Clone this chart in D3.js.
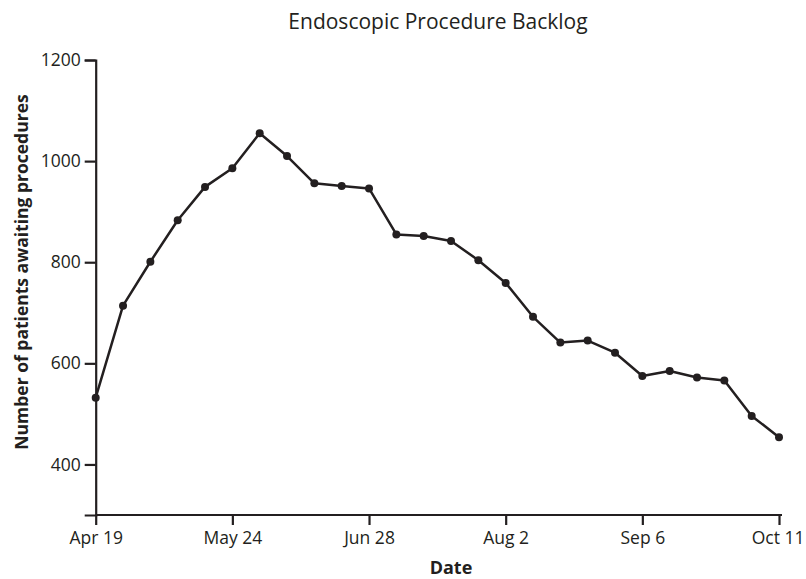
<!DOCTYPE html>
<html>
<head>
<meta charset="utf-8">
<script src="https://cdn.jsdelivr.net/npm/d3@7"></script>
<style>
  body { margin: 0; background: #fff; }
  svg text { font-family: "Open Sans", sans-serif; fill: #231f20; }
</style>
</head>
<body>
<div id="chart"></div>
<script>
// weekly counts, starting Apr 19
const startDate = "2020-04-19";
const backlog = [532, 714, 801, 883, 949, 986, 1055, 1010, 956, 951, 946,
  855, 852, 842, 804, 759, 692, 641, 645, 621, 575, 585, 572, 566, 496, 454];
const tickDates = ["2020-04-19", "2020-05-24", "2020-06-28", "2020-08-02", "2020-09-06", "2020-10-11"];
const yTicks = [400, 600, 800, 1000, 1200];

const width = 806;
const height = 579;
const parse = d3.timeParse("%Y-%m-%d");
const start = parse(startDate);

const data = backlog.map((v, i) => ({ date: d3.timeDay.offset(start, i * 7), value: v }));

const svg = d3.select("#chart")
  .append("svg")
  .attr("width", width)
  .attr("height", height);

const x = d3.scaleTime()
  .domain([parse(tickDates[0]), parse(tickDates[tickDates.length - 1])])
  .range([95.7, 779]);

const y = d3.scaleLinear()
  .domain([300, 1200])
  .range([515, 60]);

const ink = "#231f20";

// y axis
const yAxis = svg.append("g")
  .attr("transform", "translate(95.7,0)")
  .call(d3.axisLeft(y).tickValues(yTicks).tickSize(11).tickPadding(4).tickFormat(d3.format("d")));
yAxis.select(".domain").attr("stroke", ink).attr("stroke-width", 2.2);
yAxis.selectAll(".tick line").attr("stroke", ink).attr("stroke-width", 2.2);
yAxis.selectAll(".tick text").attr("font-size", 17.5).attr("fill", ink);

// x axis
const xAxis = svg.append("g")
  .attr("transform", "translate(0,515)")
  .call(d3.axisBottom(x)
    .tickValues(tickDates.map(parse))
    .tickSize(10)
    .tickPadding(7)
    .tickFormat(d3.timeFormat("%b %-d")));
xAxis.select(".domain").attr("stroke", ink).attr("stroke-width", 2.2)
  .attr("d", `M${x.range()[0]},0H${x.range()[1] + 3}`);
xAxis.selectAll(".tick line").attr("stroke", ink).attr("stroke-width", 2.2);
xAxis.selectAll(".tick text").attr("font-size", 17.5).attr("fill", ink);
// keep the last label inside the window
xAxis.selectAll(".tick text").filter((d, i, n) => i === n.length - 1)
  .attr("text-anchor", "end").attr("dx", 25);

// line + points
const line = d3.line()
  .x(d => x(d.date))
  .y(d => y(d.value));

svg.append("path")
  .datum(data)
  .attr("fill", "none")
  .attr("stroke", ink)
  .attr("stroke-width", 2.5)
  .attr("stroke-linejoin", "round")
  .attr("d", line);

svg.selectAll("circle.pt")
  .data(data)
  .enter()
  .append("circle")
  .attr("class", "pt")
  .attr("cx", d => x(d.date))
  .attr("cy", d => y(d.value))
  .attr("r", 4)
  .attr("fill", ink);

// titles
svg.append("text")
  .attr("x", 438)
  .attr("y", 29)
  .attr("text-anchor", "middle")
  .attr("font-size", 21)
  .text("Endoscopic Procedure Backlog");

svg.append("text")
  .attr("x", 451)
  .attr("y", 574)
  .attr("text-anchor", "middle")
  .attr("font-size", 18)
  .attr("font-weight", "bold")
  .text("Date");

svg.append("text")
  .attr("transform", "translate(28,272) rotate(-90)")
  .attr("text-anchor", "middle")
  .attr("font-size", 17.5)
  .attr("font-weight", "bold")
  .text("Number of patients awaiting procedures");
</script>
</body>
</html>
